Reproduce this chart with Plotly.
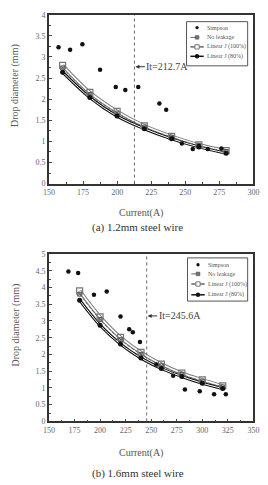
import plotly.graph_objects as go

# ---------------- data ----------------
# (a) 1.2 mm steel wire
current_a = [160, 180, 200, 220, 240, 260, 280]
linear100_a = [2.80, 2.16, 1.71, 1.37, 1.12, 0.92, 0.78]
noleak_a = [2.74, 2.11, 1.67, 1.34, 1.10, 0.90, 0.76]
linear80_a = [2.64, 2.04, 1.60, 1.30, 1.06, 0.87, 0.72]
simpson_x_a = [157, 165.5, 174.5, 187.5, 199, 206, 215.5, 231, 236, 240.5, 247.5, 255.5, 260, 266.5, 276.5]
simpson_y_a = [3.23, 3.17, 3.30, 2.70, 2.29, 2.22, 2.29, 1.90, 1.75, 1.06, 0.95, 0.82, 0.89, 0.82, 0.83]
it_a = 212.7
it_label_y_a = 2.77

# (b) 1.6 mm steel wire
current_b = [180, 200, 220, 240, 260, 280, 300, 320]
linear100_b = [3.90, 3.12, 2.51, 2.06, 1.71, 1.44, 1.24, 1.06]
noleak_b = [3.80, 3.04, 2.44, 2.00, 1.66, 1.40, 1.20, 1.03]
linear80_b = [3.62, 2.87, 2.31, 1.89, 1.58, 1.34, 1.14, 0.98]
simpson_x_b = [169, 178.5, 194, 206.5, 220, 228.5, 232, 239, 255, 271.5, 283, 297.5, 311.5, 323]
simpson_y_b = [4.48, 4.43, 3.78, 3.88, 3.13, 2.75, 2.66, 2.37, 1.70, 1.36, 0.95, 0.90, 0.81, 0.81]
it_b = 245.6
it_label_y_b = 3.15

legend_names = ["Simpson", "No leakage", "Linear J (100%)", "Linear J (80%)"]
x_ticks_a = [150, 175, 200, 225, 250, 275, 300]
x_ticks_b = [150, 175, 200, 225, 250, 275, 300, 325, 350]
y_ticks_a = [0, 0.5, 1, 1.5, 2, 2.5, 3, 3.5, 4]
y_ticks_b = [0, 0.5, 1, 1.5, 2, 2.5, 3, 3.5, 4, 4.5, 5]

W, H = 268, 485
FONT = "Liberation Serif"


def px(x):
    return x / W


def py(y):
    return 1 - y / H


fig = go.Figure()


def add_series(xs, l100, nl, l80, sx, sy, xa, ya):
    kw = dict(xaxis=xa, yaxis=ya, showlegend=False, hoverinfo="skip")
    fig.add_trace(go.Scatter(x=xs, y=l100, mode="lines", line=dict(color="#7a7a7a", width=3.6, shape="spline"), **kw))
    fig.add_trace(go.Scatter(x=xs, y=l100, mode="lines", line=dict(color="white", width=1.6, shape="spline"), **kw))
    fig.add_trace(go.Scatter(x=xs, y=l80, mode="lines", line=dict(color="#111", width=3.0, shape="spline"), **kw))
    fig.add_trace(go.Scatter(x=xs, y=l80, mode="lines", line=dict(color="white", width=1.0, shape="spline"), **kw))
    fig.add_trace(go.Scatter(x=xs, y=nl, mode="lines+markers",
                             line=dict(color="#666", width=1, dash="3px,2px", shape="spline"),
                             marker=dict(symbol="square-x-open", size=4, color="#555", line=dict(width=1)), **kw))
    fig.add_trace(go.Scatter(x=xs, y=l100, mode="markers",
                             marker=dict(symbol="square-open", size=6, color="#777", line=dict(width=1.2)), **kw))
    fig.add_trace(go.Scatter(x=xs, y=l80, mode="markers",
                             marker=dict(symbol="circle", size=5, color="#111"), **kw))
    fig.add_trace(go.Scatter(x=sx, y=sy, mode="markers",
                             marker=dict(symbol="circle", size=4.5, color="#111"), **kw))


add_series(current_a, linear100_a, noleak_a, linear80_a, simpson_x_a, simpson_y_a, "x", "y")
add_series(current_b, linear100_b, noleak_b, linear80_b, simpson_x_b, simpson_y_b, "x2", "y2")

# plot areas in pixels
A = dict(l=45, r=259, t=11, b=183)
B = dict(l=45, r=259, t=254.7, b=425.3)

axis_common = dict(
    showgrid=False, zeroline=False, showline=True, mirror=True,
    linecolor="#333", linewidth=1.6, ticks="inside", ticklen=3, tickwidth=1,
    tickcolor="#444", tickfont=dict(family=FONT, size=8, color="#666"),
)

fig.update_layout(
    width=W, height=H,
    margin=dict(l=0, r=0, t=0, b=0),
    paper_bgcolor="white", plot_bgcolor="white",
    showlegend=False,
    xaxis=dict(domain=[px(A["l"]), px(A["r"])], range=[150, 300], tickvals=x_ticks_a,
               minor=dict(dtick=12.5, ticks="inside", ticklen=2, tickcolor="#444"),
               anchor="y", **axis_common),
    yaxis=dict(domain=[py(A["b"]), py(A["t"])], range=[0, 4], tickvals=y_ticks_a,
               minor=dict(dtick=0.25, ticks="inside", ticklen=2, tickcolor="#444"),
               anchor="x", **axis_common),
    xaxis2=dict(domain=[px(B["l"]), px(B["r"])], range=[150, 350], tickvals=x_ticks_b,
                minor=dict(dtick=12.5, ticks="inside", ticklen=2, tickcolor="#444"),
                anchor="y2", **axis_common),
    yaxis2=dict(domain=[py(B["b"]), py(B["t"])], range=[0, 5], tickvals=y_ticks_b,
                minor=dict(dtick=0.25, ticks="inside", ticklen=2, tickcolor="#444"),
                anchor="x2", **axis_common),
)

shapes = []
annotations = []

# vertical It lines + labels
for it, ly, xr, yr in [(it_a, it_label_y_a, "x", "y"), (it_b, it_label_y_b, "x2", "y2")]:
    shapes.append(dict(type="line", xref=xr, yref=yr + " domain", x0=it, x1=it, y0=0, y1=1,
                       line=dict(color="#666", width=1, dash="dot")))
    annotations.append(dict(x=it, y=ly, xref=xr, yref=yr, text="It=%.1fA" % it,
                            showarrow=True, arrowhead=2, arrowsize=0.8, arrowwidth=1, arrowcolor="#333",
                            ax=33, ay=0, standoff=1,
                            font=dict(family=FONT, size=10, color="#444")))

# axis titles and captions
for yc, xt_y, cap_y, cap in [(83, 213, 228, "(a) 1.2mm steel wire"), (327, 457.7, 478, "(b) 1.6mm steel wire")]:
    annotations.append(dict(x=px(10), y=py(yc), xref="paper", yref="paper", text="Drop diameter (mm)",
                            textangle=-90, showarrow=False, xanchor="center", yanchor="middle",
                            font=dict(family=FONT, size=10, color="#555")))
    annotations.append(dict(x=px(141), y=py(xt_y), xref="paper", yref="paper", text="Current(A)",
                            showarrow=False, xanchor="center", yanchor="middle",
                            font=dict(family=FONT, size=10, color="#555")))
    annotations.append(dict(x=px(138), y=py(cap_y), xref="paper", yref="paper", text=cap,
                            showarrow=False, xanchor="center", yanchor="middle",
                            font=dict(family=FONT, size=11, color="#333")))

# custom compact legends
for box, rows in [((189, 18, 253, 63), (24, 34, 43.7, 53.3)), ((190, 258.7, 253, 302.7), (265.7, 275, 285.3, 296.3))]:
    x0, y0, x1, y1 = box
    shapes.append(dict(type="rect", xref="paper", yref="paper", x0=px(x0), x1=px(x1), y0=py(y1), y1=py(y0),
                       line=dict(color="#555", width=1), fillcolor="white", layer="above"))
    gx = x0 + 11
    for i, (name, ry) in enumerate(zip(legend_names, rows)):
        if i >= 1:
            dash = "dash" if i == 1 else "solid"
            col = "#666" if i < 3 else "#111"
            shapes.append(dict(type="line", xref="paper", yref="paper", x0=px(gx - 7), x1=px(gx + 7),
                               y0=py(ry), y1=py(ry), line=dict(color=col, width=1 if i == 1 else 1.5, dash=dash),
                               layer="above"))
        if i == 0:
            shapes.append(dict(type="circle", xref="paper", yref="paper", x0=px(gx - 1.7), x1=px(gx + 1.7),
                               y0=py(ry + 1.7), y1=py(ry - 1.7), fillcolor="#111", line=dict(width=0), layer="above"))
        elif i == 1:
            shapes.append(dict(type="rect", xref="paper", yref="paper", x0=px(gx - 1.8), x1=px(gx + 1.8),
                               y0=py(ry + 1.8), y1=py(ry - 1.8), fillcolor="#777", line=dict(width=0.6, color="#444"),
                               layer="above"))
        elif i == 2:
            shapes.append(dict(type="rect", xref="paper", yref="paper", x0=px(gx - 2.2), x1=px(gx + 2.2),
                               y0=py(ry + 2.2), y1=py(ry - 2.2), fillcolor="white", line=dict(width=1, color="#777"),
                               layer="above"))
        else:
            shapes.append(dict(type="circle", xref="paper", yref="paper", x0=px(gx - 2.3), x1=px(gx + 2.3),
                               y0=py(ry + 2.3), y1=py(ry - 2.3), fillcolor="#111", line=dict(width=0), layer="above"))
        annotations.append(dict(x=px(gx + 8), y=py(ry), xref="paper", yref="paper", text=name,
                                xanchor="left", yanchor="middle", showarrow=False,
                                font=dict(family=FONT, size=6, color="#555")))

fig.update_layout(shapes=shapes, annotations=annotations)
fig.write_html("out.html")
